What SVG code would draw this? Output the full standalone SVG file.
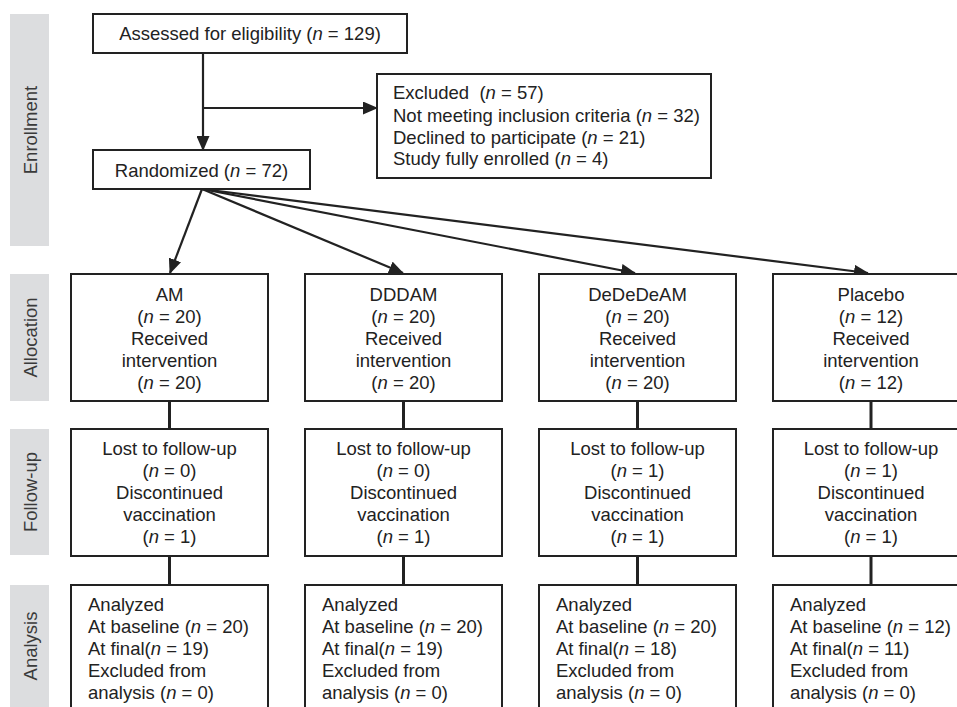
<svg xmlns="http://www.w3.org/2000/svg" width="957" height="707" viewBox="0 0 957 707">
<style>
text{font-family:"Liberation Sans",Arial,sans-serif;font-size:18.5px;fill:#222}
.c{text-anchor:middle}
.i{font-style:italic}
.box{fill:#fff;stroke:#222;stroke-width:2}
.side{fill:#dcdddf}
.st{font-size:18.5px;fill:#3a3a3a;text-anchor:middle}
.ln{stroke:#222;stroke-width:2.2;fill:none}
.vl{stroke:#222;stroke-width:3;fill:none}
</style>
<defs>
<marker id="ah" markerUnits="userSpaceOnUse" markerWidth="15" markerHeight="13" refX="14" refY="6.5" orient="auto">
<path d="M0,0 L15,6.5 L0,13 Z" fill="#222"/>
</marker>
</defs>
<rect width="957" height="707" fill="#fff"/>
<g id="side-labels">
<rect class="side" x="10" y="14" width="39" height="232"/>
<text class="st" transform="translate(36.5,130) rotate(-90)">Enrollment</text>
<rect class="side" x="10" y="274" width="39" height="127"/>
<text class="st" transform="translate(36.5,337.5) rotate(-90)">Allocation</text>
<rect class="side" x="10" y="429" width="39" height="126"/>
<text class="st" transform="translate(36.5,492) rotate(-90)">Follow-up</text>
<rect class="side" x="10" y="585" width="39" height="130"/>
<text class="st" transform="translate(36.5,646) rotate(-90)">Analysis</text>
</g>
<g id="connectors">
<line class="ln" x1="203" y1="53" x2="203" y2="150" marker-end="url(#ah)"/>
<line class="ln" x1="203" y1="108" x2="377" y2="108" marker-end="url(#ah)"/>
<line class="ln" x1="202" y1="189" x2="170" y2="273" marker-end="url(#ah)"/>
<line class="ln" x1="202" y1="189" x2="403" y2="273" marker-end="url(#ah)"/>
<line class="ln" x1="202" y1="189" x2="635" y2="273" marker-end="url(#ah)"/>
<line class="ln" x1="202" y1="189" x2="868" y2="273" marker-end="url(#ah)"/>
<line class="vl" x1="169.5" y1="401" x2="169.5" y2="429"/>
<line class="vl" x1="169.5" y1="556" x2="169.5" y2="585"/>
<line class="vl" x1="403.5" y1="401" x2="403.5" y2="429"/>
<line class="vl" x1="403.5" y1="556" x2="403.5" y2="585"/>
<line class="vl" x1="637.5" y1="401" x2="637.5" y2="429"/>
<line class="vl" x1="637.5" y1="556" x2="637.5" y2="585"/>
<line class="vl" x1="871" y1="401" x2="871" y2="429"/>
<line class="vl" x1="871" y1="556" x2="871" y2="585"/>
</g>
<g id="assessed">
<rect class="box" x="93" y="14" width="314" height="39"/>
<text class="c" x="250" y="40">Assessed for eligibility (<tspan class="i">n</tspan> = 129)</text>
</g>
<g id="excluded">
<rect class="box" x="377" y="74" width="334" height="104"/>
<text x="393" y="99">Excluded&#160; (<tspan class="i">n</tspan> = 57)</text>
<text x="393" y="122">Not meeting inclusion criteria (<tspan class="i">n</tspan> = 32)</text>
<text x="393" y="144">Declined to participate (<tspan class="i">n</tspan> = 21)</text>
<text x="393" y="165">Study fully enrolled (<tspan class="i">n</tspan> = 4)</text>
</g>
<g id="randomized">
<rect class="box" x="93" y="150" width="217" height="39"/>
<text class="c" x="201.5" y="177">Randomized (<tspan class="i">n</tspan> = 72)</text>
</g>
<g id="alloc-am">
<rect class="box" x="71" y="274" width="197" height="127"/>
<text class="c" x="169.5" y="301">AM</text>
<text class="c" x="169.5" y="323">(<tspan class="i">n</tspan> = 20)</text>
<text class="c" x="169.5" y="345">Received</text>
<text class="c" x="169.5" y="367">intervention</text>
<text class="c" x="169.5" y="389">(<tspan class="i">n</tspan> = 20)</text>
</g>
<g id="alloc-dddam">
<rect class="box" x="305" y="274" width="197" height="127"/>
<text class="c" x="403.5" y="301">DDDAM</text>
<text class="c" x="403.5" y="323">(<tspan class="i">n</tspan> = 20)</text>
<text class="c" x="403.5" y="345">Received</text>
<text class="c" x="403.5" y="367">intervention</text>
<text class="c" x="403.5" y="389">(<tspan class="i">n</tspan> = 20)</text>
</g>
<g id="alloc-dedede">
<rect class="box" x="539" y="274" width="197" height="127"/>
<text class="c" x="637.5" y="301">DeDeDeAM</text>
<text class="c" x="637.5" y="323">(<tspan class="i">n</tspan> = 20)</text>
<text class="c" x="637.5" y="345">Received</text>
<text class="c" x="637.5" y="367">intervention</text>
<text class="c" x="637.5" y="389">(<tspan class="i">n</tspan> = 20)</text>
</g>
<g id="alloc-placebo">
<rect class="box" x="773" y="274" width="197" height="127"/>
<text class="c" x="871" y="301">Placebo</text>
<text class="c" x="871" y="323">(<tspan class="i">n</tspan> = 12)</text>
<text class="c" x="871" y="345">Received</text>
<text class="c" x="871" y="367">intervention</text>
<text class="c" x="871" y="389">(<tspan class="i">n</tspan> = 12)</text>
</g>
<g id="fu-am">
<rect class="box" x="71" y="429" width="197" height="127"/>
<text class="c" x="169.5" y="455">Lost to follow-up</text>
<text class="c" x="169.5" y="477">(<tspan class="i">n</tspan> = 0)</text>
<text class="c" x="169.5" y="499">Discontinued</text>
<text class="c" x="169.5" y="521">vaccination</text>
<text class="c" x="169.5" y="543">(<tspan class="i">n</tspan> = 1)</text>
</g>
<g id="fu-dddam">
<rect class="box" x="305" y="429" width="197" height="127"/>
<text class="c" x="403.5" y="455">Lost to follow-up</text>
<text class="c" x="403.5" y="477">(<tspan class="i">n</tspan> = 0)</text>
<text class="c" x="403.5" y="499">Discontinued</text>
<text class="c" x="403.5" y="521">vaccination</text>
<text class="c" x="403.5" y="543">(<tspan class="i">n</tspan> = 1)</text>
</g>
<g id="fu-dedede">
<rect class="box" x="539" y="429" width="197" height="127"/>
<text class="c" x="637.5" y="455">Lost to follow-up</text>
<text class="c" x="637.5" y="477">(<tspan class="i">n</tspan> = 1)</text>
<text class="c" x="637.5" y="499">Discontinued</text>
<text class="c" x="637.5" y="521">vaccination</text>
<text class="c" x="637.5" y="543">(<tspan class="i">n</tspan> = 1)</text>
</g>
<g id="fu-placebo">
<rect class="box" x="773" y="429" width="197" height="127"/>
<text class="c" x="871" y="455">Lost to follow-up</text>
<text class="c" x="871" y="477">(<tspan class="i">n</tspan> = 1)</text>
<text class="c" x="871" y="499">Discontinued</text>
<text class="c" x="871" y="521">vaccination</text>
<text class="c" x="871" y="543">(<tspan class="i">n</tspan> = 1)</text>
</g>
<g id="an-am">
<rect class="box" x="71" y="585" width="197" height="135"/>
<text x="88" y="611">Analyzed</text>
<text x="88" y="633">At baseline (<tspan class="i">n</tspan> = 20)</text>
<text x="88" y="655">At final(<tspan class="i">n</tspan> = 19)</text>
<text x="88" y="677">Excluded from</text>
<text x="88" y="699">analysis (<tspan class="i">n</tspan> = 0)</text>
</g>
<g id="an-dddam">
<rect class="box" x="305" y="585" width="197" height="135"/>
<text x="322" y="611">Analyzed</text>
<text x="322" y="633">At baseline (<tspan class="i">n</tspan> = 20)</text>
<text x="322" y="655">At final(<tspan class="i">n</tspan> = 19)</text>
<text x="322" y="677">Excluded from</text>
<text x="322" y="699">analysis (<tspan class="i">n</tspan> = 0)</text>
</g>
<g id="an-dedede">
<rect class="box" x="539" y="585" width="197" height="135"/>
<text x="556" y="611">Analyzed</text>
<text x="556" y="633">At baseline (<tspan class="i">n</tspan> = 20)</text>
<text x="556" y="655">At final(<tspan class="i">n</tspan> = 18)</text>
<text x="556" y="677">Excluded from</text>
<text x="556" y="699">analysis (<tspan class="i">n</tspan> = 0)</text>
</g>
<g id="an-placebo">
<rect class="box" x="773" y="585" width="197" height="135"/>
<text x="790" y="611">Analyzed</text>
<text x="790" y="633">At baseline (<tspan class="i">n</tspan> = 12)</text>
<text x="790" y="655">At final(<tspan class="i">n</tspan> = 11)</text>
<text x="790" y="677">Excluded from</text>
<text x="790" y="699">analysis (<tspan class="i">n</tspan> = 0)</text>
</g>
</svg>
